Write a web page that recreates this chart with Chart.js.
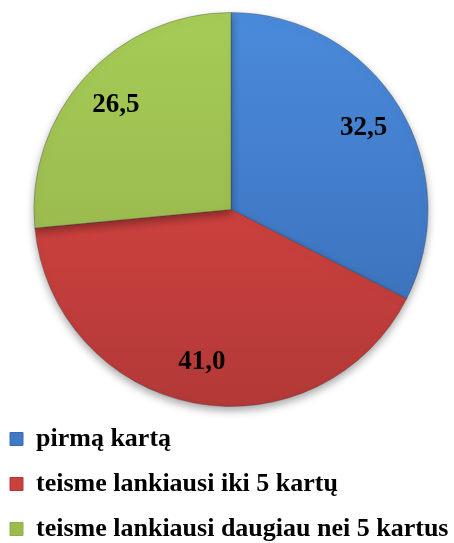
<!DOCTYPE html>
<html>
<head>
<meta charset="utf-8">
<script src="https://cdn.jsdelivr.net/npm/chart.js@4.4.0/dist/chart.umd.min.js"></script>
<style>
  html, body { margin: 0; padding: 0; background: #fff; }
  #wrap { width: 454px; height: 543px; }
</style>
</head>
<body>
<div id="wrap"><canvas id="myChart"></canvas></div>
<script>
// categories and values
var labels = ["pirmą kartą", "teisme lankiausi iki 5 kartų", "teisme lankiausi daugiau nei 5 kartus"];
var values = [32.5, 41.0, 26.5];
var valueText = ["32,5", "41,0", "26,5"];

// solid colours (legend) and light/dark pairs for the slice shading
var baseColors = ["#4079c6", "#c9403d", "#9bbb4f"];
var topColors = ["#4a8bdb", "#d94b48", "#a6cc56"];
var bottomColors = ["#386cae", "#b23937", "#8cb044"];

function sliceGradient(context) {
  var chart = context.chart;
  var area = chart.chartArea;
  if (!area) return baseColors[context.dataIndex];
  var g = chart.ctx.createLinearGradient(0, area.top, 0, area.bottom);
  g.addColorStop(0, topColors[context.dataIndex]);
  g.addColorStop(0.55, baseColors[context.dataIndex]);
  g.addColorStop(1, bottomColors[context.dataIndex]);
  return g;
}

// the pie sits a little right of the middle in the original
var nudgePie = {
  id: "nudgePie",
  afterLayout: function(chart) {
    chart.chartArea.left += 4;
    chart.chartArea.right += 4;
  }
};

// soft shadow under the pie
var shadowPlugin = {
  id: "pieShadow",
  beforeDatasetsDraw: function(chart) {
    var ctx = chart.ctx;
    ctx.save();
    ctx.shadowColor = "rgba(0,0,0,0.35)";
    ctx.shadowBlur = 9;
    ctx.shadowOffsetY = 4;
  },
  afterDatasetsDraw: function(chart) {
    chart.ctx.restore();
  }
};

// value labels inside the slices
var valueLabels = {
  id: "valueLabels",
  afterDatasetsDraw: function(chart) {
    var ctx = chart.ctx;
    var meta = chart.getDatasetMeta(0);
    ctx.save();
    ctx.font = "bold 27px 'Liberation Serif', 'Times New Roman', serif";
    ctx.fillStyle = "#000";
    ctx.textAlign = "center";
    ctx.textBaseline = "middle";
    meta.data.forEach(function(arc, i) {
      var p = arc.getProps(["x", "y", "startAngle", "endAngle", "outerRadius"], true);
      var mid = (p.startAngle + p.endAngle) / 2;
      var r = p.outerRadius * 0.79;
      ctx.fillText(valueText[i], p.x + Math.cos(mid) * r, p.y + Math.sin(mid) * r);
    });
    ctx.restore();
  }
};

var ctx = document.getElementById("myChart");
var myChart = new Chart(ctx, {
  type: "pie",
  data: {
    labels: labels,
    datasets: [
      {
        data: values,
        backgroundColor: sliceGradient,
        borderColor: "rgba(60,60,60,0.35)",
        borderWidth: 1
      }
    ]
  },
  options: {
    responsive: true,
    maintainAspectRatio: false,
    animation: false,
    layout: {
      padding: { top: 12, left: -9, right: -18, bottom: -9 }
    },
    plugins: {
      tooltip: { enabled: false },
      legend: {
        position: "bottom",
        align: "start",
        labels: {
          boxWidth: 13,
          boxHeight: 13,
          padding: 19,
          color: "#000",
          font: { family: "'Liberation Serif', 'Times New Roman', serif", size: 26, weight: "bold" },
          generateLabels: function(chart) {
            return chart.data.labels.map(function(text, i) {
              return {
                text: text,
                fillStyle: baseColors[i],
                strokeStyle: bottomColors[i],
                lineWidth: 1,
                hidden: false,
                index: i
              };
            });
          }
        }
      }
    }
  },
  plugins: [nudgePie, shadowPlugin, valueLabels]
});
</script>
</body>
</html>
